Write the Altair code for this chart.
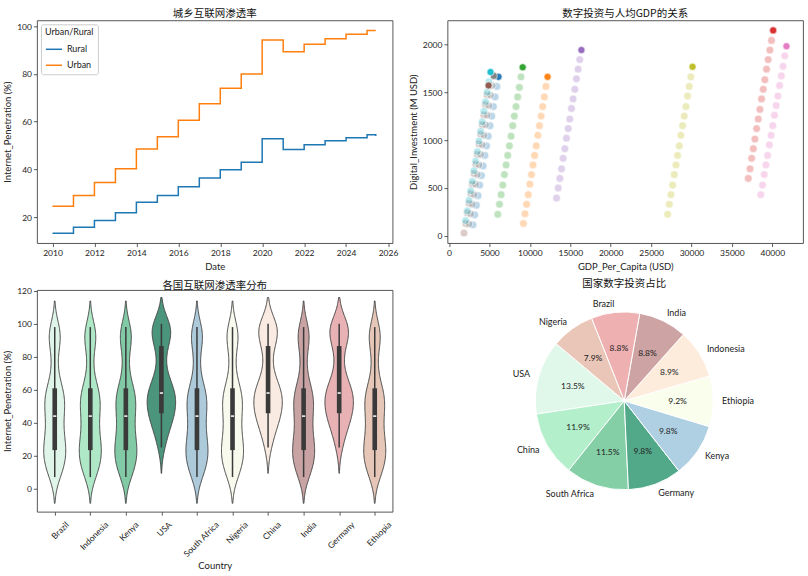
import math
import altair as alt
import pandas as pd

# ---------------- Panel 1: urban / rural internet penetration ----------------
line_dates = ["2010-01-01", "2011-01-01", "2012-01-01", "2013-01-01", "2014-01-01",
              "2015-01-01", "2016-01-01", "2017-01-01", "2018-01-01", "2019-01-01",
              "2020-01-01", "2021-01-01", "2022-01-01", "2023-01-01", "2024-01-01",
              "2025-01-01", "2025-06-01"]
rural_pen = [13.2, 15.7, 18.6, 21.8, 26.2, 29.0, 32.7, 36.4, 39.8, 43.0,
             52.8, 48.3, 50.3, 52.0, 53.3, 54.5, 54.0]
urban_pen = [24.5, 29.0, 34.5, 40.3, 48.5, 53.7, 60.6, 67.5, 74.0, 80.0,
             94.3, 89.3, 92.5, 94.8, 96.7, 98.2, 98.2]

# ---------------- Panel 2: digital investment vs GDP per capita ----------------
countries = ["Brazil", "Indonesia", "Kenya", "USA", "South Africa",
             "Nigeria", "China", "India", "Germany", "Ethiopia"]
tab10 = ["#1f77b4", "#ff7f0e", "#2ca02c", "#d62728", "#9467bd",
         "#8c564b", "#e377c2", "#7f7f7f", "#bcbd22", "#17becf"]
years = list(range(2010, 2026))

gdp_brazil = [2960, 3170, 3380, 3590, 3800, 4010, 4220, 4430, 4640, 4850, 5070, 5280, 5490, 5700, 5910, 6120]
inv_brazil = [115, 220, 320, 420, 530, 630, 730, 840, 940, 1040, 1150, 1250, 1350, 1450, 1560, 1660]
gdp_indonesia = [9200, 9400, 9600, 9800, 10000, 10200, 10390, 10590, 10790, 10990, 11190, 11390, 11590, 11790, 11990, 12190]
inv_indonesia = [130, 230, 330, 430, 540, 640, 740, 840, 940, 1050, 1150, 1250, 1350, 1450, 1560, 1660]
gdp_kenya = [6030, 6240, 6440, 6650, 6850, 7060, 7260, 7470, 7670, 7880, 8080, 8290, 8490, 8700, 8900, 9110]
inv_kenya = [225, 330, 430, 530, 640, 740, 840, 940, 1040, 1150, 1250, 1350, 1450, 1550, 1660, 1760]
gdp_usa = [37030, 37240, 37440, 37650, 37850, 38060, 38260, 38470, 38670, 38880, 39080, 39290, 39490, 39700, 39900, 40110]
inv_usa = [600, 700, 810, 910, 1010, 1120, 1220, 1320, 1430, 1530, 1630, 1740, 1840, 1940, 2040, 2145]
gdp_south_africa = [13300, 13510, 13710, 13920, 14120, 14330, 14530, 14740, 14940, 15150, 15350, 15560, 15760, 15970, 16170, 16380]
inv_south_africa = [395, 500, 600, 700, 810, 910, 1020, 1120, 1220, 1330, 1430, 1530, 1640, 1740, 1840, 1940]
gdp_nigeria = [1850, 2060, 2260, 2470, 2670, 2880, 3080, 3290, 3490, 3700, 3900, 4100, 4300, 4500, 4700, 4890]
inv_nigeria = [30, 130, 240, 340, 440, 540, 650, 750, 850, 960, 1060, 1160, 1260, 1370, 1470, 1570]
gdp_china = [38580, 38790, 39000, 39210, 39420, 39640, 39850, 40060, 40270, 40480, 40690, 40900, 41120, 41330, 41540, 41750]
inv_china = [430, 530, 640, 740, 840, 950, 1050, 1150, 1260, 1360, 1460, 1570, 1670, 1770, 1880, 1980]
gdp_india = [2460, 2670, 2870, 3080, 3280, 3490, 3690, 3900, 4100, 4310, 4510, 4720, 4920, 5130, 5330, 5540]
inv_india = [125, 230, 330, 430, 540, 640, 740, 850, 950, 1050, 1160, 1260, 1360, 1470, 1570, 1670]
gdp_germany = [27050, 27260, 27460, 27670, 27870, 28080, 28280, 28490, 28690, 28900, 29100, 29310, 29510, 29720, 29920, 30130]
inv_germany = [225, 330, 430, 530, 640, 740, 840, 940, 1050, 1150, 1250, 1350, 1460, 1560, 1660, 1765]
gdp_ethiopia = [2050, 2260, 2460, 2670, 2870, 3080, 3280, 3490, 3690, 3900, 4100, 4310, 4510, 4720, 4920, 5130]
inv_ethiopia = [160, 260, 370, 470, 570, 680, 780, 880, 990, 1090, 1190, 1300, 1400, 1500, 1610, 1710]

# ---------------- Panel 3: penetration distribution per country ----------------
pen_group_a = [7, 9.5, 12, 14.5, 17, 19, 21, 23, 23.5, 26, 28.5, 31, 33.5, 36, 38.5, 43.5,
               44.5, 47, 49.5, 52, 54, 56, 58, 60.5, 62, 69, 77, 86, 90, 93, 95.5, 98]
pen_group_b = [25, 30, 34, 37.5, 40, 42, 44, 45, 46, 48, 50, 52, 53.5, 55, 56.5, 57.5,
               58.5, 60, 62, 64, 67, 72, 78, 86, 88, 91, 94, 96, 97.5, 98.5, 99.5, 100]
group_b_countries = ["USA", "China", "Germany"]
violin_colors = ["#e0f5e9", "#aee8c7", "#82c9a5", "#4a957b", "#adcadb",
                 "#f8faee", "#f9ebe1", "#c9a3a4", "#e8b2b4", "#e6c6b6"]

# ---------------- Panel 4: investment share ----------------
pie_countries = ["USA", "China", "South Africa", "Germany", "Kenya",
                 "Ethiopia", "Indonesia", "India", "Brazil", "Nigeria"]
pie_share = [13.5, 11.9, 11.5, 9.8, 9.8, 9.2, 8.9, 8.8, 8.8, 7.9]
pie_colors = ["#e0f8ea", "#b2efca", "#84cfa6", "#52a98a", "#afcfe3",
              "#fafeec", "#fdebdc", "#cda3a4", "#efb0b1", "#eac6b8"]

FONT = "Lato"
CJK = "Noto Sans CJK SC"
W, H = 356, 223

# ---------------- build panel 1 ----------------
line_df = pd.DataFrame({
    "Date": line_dates * 2,
    "pen": rural_pen + urban_pen,
    "grp": ["Rural"] * len(rural_pen) + ["Urban"] * len(urban_pen),
})
p1 = alt.Chart(line_df).mark_line(interpolate="step-after", strokeWidth=1.5).encode(
    x=alt.X("Date:T",
            scale=alt.Scale(domain=[alt.DateTime(year=2009, month=4, date=5),
                                    alt.DateTime(year=2026, month=3, date=20)], nice=False),
            axis=alt.Axis(values=[alt.DateTime(year=y) for y in range(2010, 2027, 2)],
                          format="%Y", title="Date")),
    y=alt.Y("pen:Q", scale=alt.Scale(domain=[9.1, 102.5], nice=False, zero=False),
            axis=alt.Axis(values=[20, 40, 60, 80, 100], title="Internet_Penetration (%)")),
    color=alt.Color("grp:N", scale=alt.Scale(domain=["Rural", "Urban"], range=["#1f77b4", "#ff7f0e"]),
                    legend=alt.Legend(title="Urban/Rural", orient="top-left", offset=4,
                                      fillColor="white", strokeColor="#cccccc", padding=4,
                                      cornerRadius=2, symbolType="stroke", symbolStrokeWidth=1.5,
                                      symbolSize=260, labelFont=FONT, labelFontSize=9,
                                      titleFont=FONT, titleFontSize=9, titleFontWeight="normal",
                                      rowPadding=2, titlePadding=3, labelColor="#222", titleColor="#222")),
).properties(width=W, height=H, title="城乡互联网渗透率")

# ---------------- build panel 2 ----------------
gdp_lists = [gdp_brazil, gdp_indonesia, gdp_kenya, gdp_usa, gdp_south_africa,
             gdp_nigeria, gdp_china, gdp_india, gdp_germany, gdp_ethiopia]
inv_lists = [inv_brazil, inv_indonesia, inv_kenya, inv_usa, inv_south_africa,
             inv_nigeria, inv_china, inv_india, inv_germany, inv_ethiopia]
rows = []
for c, g, v in zip(countries, gdp_lists, inv_lists):
    for y, gv, iv in zip(years, g, v):
        rows.append({"sc_country": c, "year": y, "gdp": gv, "inv": iv})
sc_df = pd.DataFrame(rows)

sc_x = alt.X("gdp:Q", scale=alt.Scale(domain=[-200, 43800], nice=False, zero=False),
             axis=alt.Axis(values=list(range(0, 40001, 5000)), format="d", title="GDP_Per_Capita (USD)"))
sc_y = alt.Y("inv:Q", scale=alt.Scale(domain=[-75, 2250], nice=False, zero=False),
             axis=alt.Axis(values=[0, 500, 1000, 1500, 2000], format="d", title="Digital_Investment (M USD)"))
sc_color = alt.Color("sc_country:N", scale=alt.Scale(domain=countries, range=tab10), legend=None)

pts = alt.Chart(sc_df).mark_point(filled=True, shape="circle", size=60, fillOpacity=0.3,
                                  stroke="white", strokeWidth=0.6).encode(x=sc_x, y=sc_y, color=sc_color)
last = alt.Chart(sc_df).transform_filter("datum.year == 2025").mark_point(
    filled=True, shape="circle", size=50, fillOpacity=0.95, stroke="white", strokeWidth=0.6
).encode(x=sc_x, y=sc_y, color=sc_color)
p2 = alt.layer(pts, last).properties(width=W, height=H, title="数字投资与人均GDP的关系")

# ---------------- build panel 3 ----------------
vrows = []
for i, c in enumerate(countries):
    vals = pen_group_b if c in group_b_countries else pen_group_a
    for v in vals:
        vrows.append({"v_country": c, "idx": i, "pen": v})
vio_df = pd.DataFrame(vrows)
H3 = 222
slot = W / 10.0

vx_scale = alt.Scale(domain=[-0.5, 9.5], nice=False, zero=False)
vy_scale = alt.Scale(domain=[-14, 120.5], nice=False, zero=False)
vy_axis = alt.Axis(values=[0, 20, 40, 60, 80, 100, 120], title="Internet_Penetration (%)")
vx_axis = alt.Axis(values=list(range(10)), labels=False, title="Country", titlePadding=45)
vbase = alt.Chart(vio_df)

areas = vbase.transform_joinaggregate(
    vmin="min(pen)", vmax="max(pen)", groupby=["v_country"]
).transform_density(
    "pen", as_=["pen", "density"], groupby=["v_country", "idx", "vmin", "vmax"],
    bandwidth=8, extent=[-12, 118], steps=250
).transform_filter(
    "datum.pen >= datum.vmin - 16 && datum.pen <= datum.vmax + 16"
).transform_joinaggregate(
    dmax="max(density)"
).transform_calculate(
    xl="datum.idx - 0.4 * datum.density / datum.dmax",
    xr="datum.idx + 0.4 * datum.density / datum.dmax",
).mark_area(orient="horizontal", stroke="#444444", strokeWidth=1).encode(
    y=alt.Y("pen:Q", scale=vy_scale, axis=vy_axis),
    x=alt.X("xl:Q", scale=vx_scale, axis=vx_axis),
    x2="xr:Q",
    color=alt.Color("v_country:N", scale=alt.Scale(domain=countries, range=violin_colors), legend=None),
    detail="v_country:N",
)

stats = vbase.transform_aggregate(
    q1="q1(pen)", q3="q3(pen)", med="median(pen)", lo="min(pen)", hi="max(pen)",
    groupby=["v_country", "idx"]
).transform_calculate(
    bl="datum.idx - 0.065", br="datum.idx + 0.065",
    ml="datum.idx - 0.045", mr="datum.idx + 0.045",
)
whisk = stats.mark_rule(color="#3a3a3a", strokeWidth=1.5).encode(
    x=alt.X("idx:Q", scale=vx_scale, axis=vx_axis),
    y=alt.Y("lo:Q", scale=vy_scale, axis=vy_axis), y2="hi:Q")
box = stats.mark_rect(color="#3a3a3a").encode(
    x=alt.X("bl:Q", scale=vx_scale, axis=vx_axis), x2="br:Q",
    y=alt.Y("q1:Q", scale=vy_scale, axis=vy_axis), y2="q3:Q")
med = stats.mark_rule(color="white", strokeWidth=1.5).encode(
    x=alt.X("ml:Q", scale=vx_scale, axis=vx_axis), x2="mr:Q",
    y=alt.Y("med:Q", scale=vy_scale, axis=vy_axis))

lab_df = pd.DataFrame({"lab_country": countries, "idx": list(range(10))})
xlabels = alt.Chart(lab_df).transform_calculate(
    xo=f"datum.idx + (4.8 + 1.3 * length(datum.lab_country)) / {slot}"
).mark_text(angle=315, align="right", baseline="middle", font=FONT, fontSize=8.5, color="#222").encode(
    x=alt.X("xo:Q", scale=vx_scale, axis=vx_axis), y=alt.value(H3 + 11.5), text="lab_country:N")

p3 = alt.layer(areas, whisk, box, med, xlabels).properties(
    width=W, height=H3, title=alt.TitleParams("各国互联网渗透率分布", offset=-5))

# ---------------- build panel 4 ----------------
pie_df = pd.DataFrame({"p_country": pie_countries, "share": pie_share,
                       "ord": list(range(len(pie_countries)))})
start = math.radians(310)
pie_base = alt.Chart(pie_df).transform_window(
    cum="sum(share)", sort=[alt.SortField("ord", order="descending")]
).transform_joinaggregate(total="sum(share)").transform_calculate(
    t0=f"{start} + 2*PI*(datum.cum - datum.share)/datum.total",
    t1=f"{start} + 2*PI*datum.cum/datum.total",
).transform_calculate(
    tm="(datum.t0 + datum.t1)/2",
    pct="format(100*datum.share/datum.total, '.1f') + '%'",
)
R = 89
arcs = pie_base.mark_arc(outerRadius=R, stroke="white", strokeWidth=1).encode(
    theta=alt.Theta("t0:Q", scale=None), theta2="t1:Q",
    color=alt.Color("p_country:N", scale=alt.Scale(domain=pie_countries, range=pie_colors), legend=None))
pct_text = pie_base.mark_text(radius=0.6 * R, align="center", baseline="middle",
                              font=FONT, fontSize=8.5, color="#222").encode(
    theta=alt.Theta("tm:Q", scale=None), text="pct:N")
lab_r = pie_base.transform_filter("sin(datum.tm) >= 0").mark_text(
    radius=1.1 * R, align="left", baseline="middle", font=FONT, fontSize=9, color="#222").encode(
    theta=alt.Theta("tm:Q", scale=None), text="p_country:N")
lab_l = pie_base.transform_filter("sin(datum.tm) < 0").mark_text(
    radius=1.1 * R, align="right", baseline="middle", font=FONT, fontSize=9, color="#222").encode(
    theta=alt.Theta("tm:Q", scale=None), text="p_country:N")
p4 = alt.layer(arcs, pct_text, lab_r, lab_l).properties(
    width=W, height=H3, title=alt.TitleParams("国家数字投资占比", offset=0),
    view=alt.ViewBackground(stroke="transparent"))

row1 = alt.hconcat(p1, p2, spacing=9).resolve_scale(color="independent")
row2 = alt.hconcat(p3, p4, spacing=51).resolve_scale(color="independent")
chart = alt.vconcat(row1, row2, spacing=8).resolve_scale(color="independent").properties(
    padding={"left": 2, "top": 8, "right": 4, "bottom": 2}
).configure_view(stroke="#444444", strokeWidth=0.9).configure_axis(
    labelFont=FONT, labelFontSize=8.5, labelColor="#222", titleFont=FONT, titleFontSize=9.5,
    titleFontWeight="normal", titleColor="#222", grid=False, domain=False, tickColor="#333",
    tickSize=3.5, tickWidth=0.8, labelPadding=2, titlePadding=4,
).configure_title(font=CJK, fontSize=10.5, fontWeight="normal", color="#111", offset=1, anchor="middle")

chart.save("out.html", embed_options={"renderer": "svg", "actions": False})
